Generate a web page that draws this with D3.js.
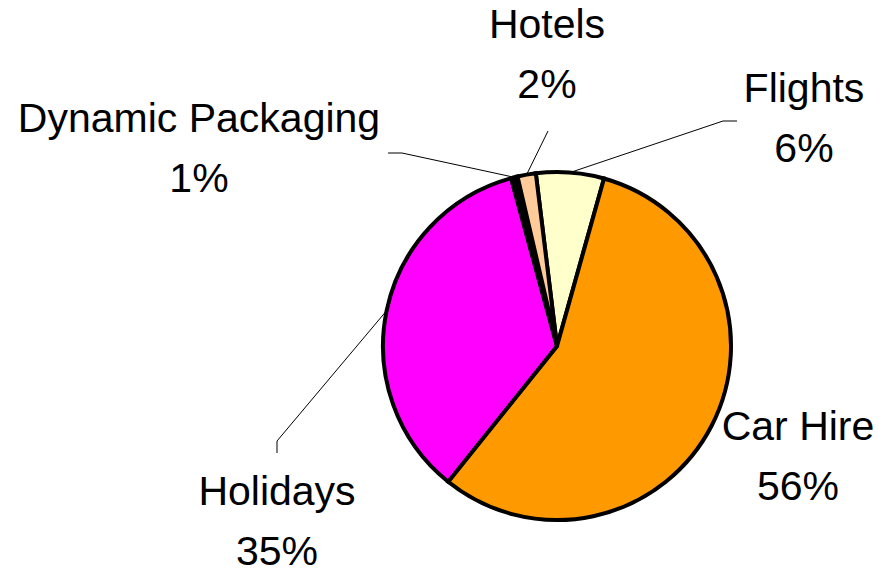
<!DOCTYPE html>
<html>
<head>
<meta charset="utf-8">
<script src="https://cdn.jsdelivr.net/npm/d3@7"></script>
<style>
  body { margin: 0; background: #fff; }
  svg { display: block; }
  .label { font-family: "Liberation Sans", Arial, sans-serif; font-size: 41px; fill: #000; }
</style>
</head>
<body>
<div id="chart"></div>
<script>
// data
const categories = ["Flights", "Car Hire", "Holidays", "Dynamic Packaging", "Hotels"];
const shares = [6.3, 56.4, 35.0, 0.6, 1.7];
const percentLabels = ["6%", "56%", "35%", "1%", "2%"];
const colors = ["#FFFFCC", "#FF9900", "#FF00FF", "#000000", "#FFCC99"];

const width = 879, height = 570;
const cx = 557, cy = 346, radius = 174;

// label placement: text centre x, first baseline y, leader elbow + outer end (null = no leader)
const labelLayout = [
    {x: 804, y: 102, leader: [[723, 121], [737, 121]]},
    {x: 798, y: 440, leader: null},
    {x: 277, y: 505, leader: [[277, 441], [277, 453]]},
    {x: 199, y: 132, leader: [[402, 153], [388, 153]]},
    {x: 547, y: 38, leader: [[548, 131]]}
];

const svg = d3.select("#chart").append("svg")
    .attr("width", width)
    .attr("height", height);

const pie = d3.pie()
    .sort(null)
    .value(d => d)
    .startAngle(-7 * Math.PI / 180)
    .endAngle(353 * Math.PI / 180);

const arcs = pie(shares);

const arc = d3.arc()
    .innerRadius(0)
    .outerRadius(radius);

const g = svg.append("g")
    .attr("transform", "translate(" + cx + "," + cy + ")");

g.selectAll("path.slice")
    .data(arcs)
    .enter()
    .append("path")
    .attr("class", "slice")
    .attr("d", arc)
    .attr("fill", (d, i) => colors[i])
    .attr("stroke", "#000")
    .attr("stroke-width", 4)
    .attr("stroke-linejoin", "miter");

// leader lines, from the middle of each slice's rim to the label
const line = d3.line();
arcs.forEach(function(d, i) {
    const lay = labelLayout[i];
    if (!lay.leader) return;
    const mid = (d.startAngle + d.endAngle) / 2;
    const p0 = [cx + radius * Math.sin(mid), cy - radius * Math.cos(mid)];
    svg.append("path")
        .attr("d", line([p0].concat(lay.leader)))
        .attr("fill", "none")
        .attr("stroke", "#000")
        .attr("stroke-width", 1);
});

// labels
const labels = svg.selectAll("text.label")
    .data(categories)
    .enter()
    .append("text")
    .attr("class", "label")
    .attr("text-anchor", "middle")
    .attr("x", (d, i) => labelLayout[i].x)
    .attr("y", (d, i) => labelLayout[i].y);

labels.append("tspan")
    .attr("x", (d, i) => labelLayout[i].x)
    .text(d => d);

labels.append("tspan")
    .attr("x", (d, i) => labelLayout[i].x)
    .attr("dy", 60)
    .text((d, i) => percentLabels[i]);
</script>
</body>
</html>
